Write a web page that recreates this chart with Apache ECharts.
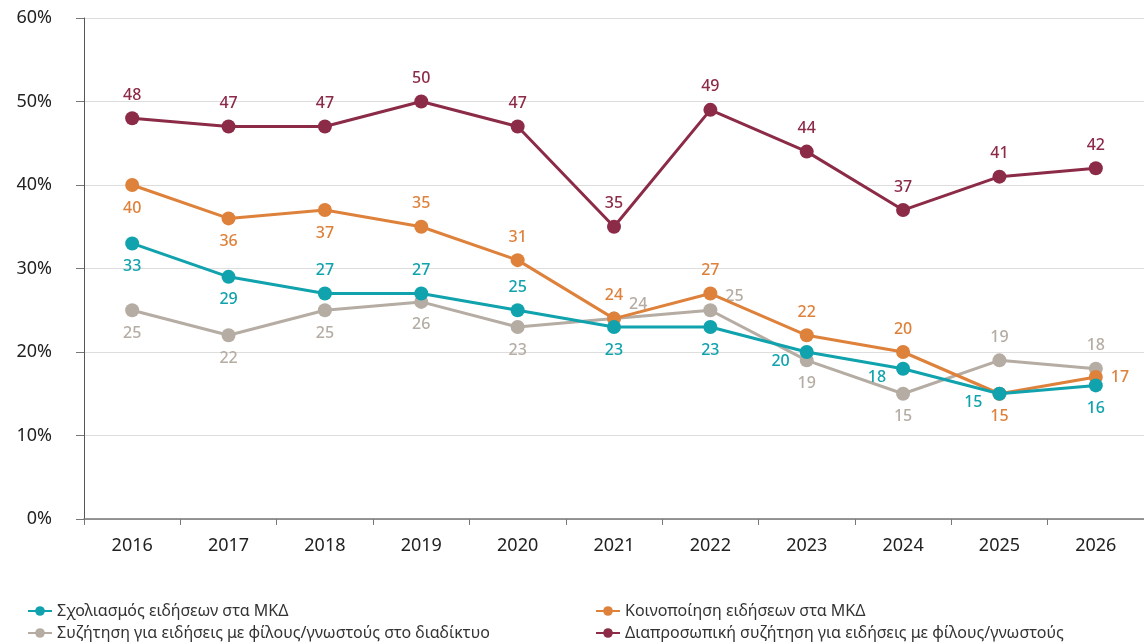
<!DOCTYPE html>
<html>
<head>
<meta charset="utf-8">
<script src="https://cdn.jsdelivr.net/npm/echarts@6/dist/echarts.min.js"></script>
<style>
  html, body { margin: 0; padding: 0; background: #fff; }
  #chart { width: 1144px; height: 644px; }
</style>
</head>
<body>
<div id="chart"></div>
<script>
const years = ["2016", "2017", "2018", "2019", "2020", "2021", "2022", "2023", "2024", "2025", "2026"];

const commenting = [33, 29, 27, 27, 25, 23, 23, 20, 18, 15, 16];
const sharing = [40, 36, 37, 35, 31, 24, 27, 22, 20, 15, 17];
const onlineTalk = [25, 22, 25, 26, 23, 24, 25, 19, 15, 19, 18];
const faceToFace = [48, 47, 47, 50, 47, 35, 49, 44, 37, 41, 42];

const names = [
  "Σχολιασμός ειδήσεων στα ΜΚΔ",
  "Κοινοποίηση ειδήσεων στα ΜΚΔ",
  "Συζήτηση για ειδήσεις με φίλους/γνωστούς στο διαδίκτυο",
  "Διαπροσωπική συζήτηση για ειδήσεις με φίλους/γνωστούς"
];

// where each value label sits
const commentingPos = ["bottom", "bottom", "top", "top", "top", "bottom", "bottom", "left", "left", "left", "bottom"];
const sharingPos = ["bottom", "bottom", "bottom", "top", "top", "top", "top", "top", "top", "bottom", "right"];
const onlineTalkPos = ["bottom", "bottom", "bottom", "bottom", "bottom", "right", "right", "bottom", "bottom", "top", "top"];
const faceToFacePos = Array(11).fill("top");

const FONT = "Noto Sans";
const chart = echarts.init(document.getElementById("chart"));

function makeSeries(name, values, positions, color, z) {
  return {
    name: name,
    type: "line",
    z: z,
    symbol: "circle",
    symbolSize: 14,
    lineStyle: { width: 3, color: color },
    itemStyle: { color: color },
    label: {
      show: true,
      color: color,
      fontFamily: FONT,
      fontSize: 16,
      fontWeight: 500,
      distance: 8
    },
    data: values.map((v, i) => {
      const item = { value: v, label: { position: positions[i] } };
      if (positions[i] === "right" && name === names[2]) {
        item.label.offset = [0, -14];
      }
      if (positions[i] === "left" && name === names[0]) {
        item.label.offset = [-2, 9];
      }
      return item;
    }),
    animation: false
  };
}

const legendBase = {
  orient: "vertical",
  height: 60,
  itemWidth: 24,
  itemHeight: 12,
  itemGap: 6,
  textStyle: { fontFamily: FONT, fontSize: 16, color: "#333" }
};

chart.setOption({
  animation: false,
  grid: { left: 84, right: 0, top: 18, bottom: 125 },
  legend: [
    Object.assign({}, legendBase, { left: 22, top: 598, data: [names[0], names[2]] }),
    Object.assign({}, legendBase, { left: 590, top: 598, data: [names[1], names[3]] })
  ],
  xAxis: {
    type: "category",
    data: years,
    boundaryGap: true,
    axisLine: { lineStyle: { color: "#777", width: 1.5 } },
    axisTick: { show: true, length: 6, lineStyle: { color: "#777" } },
    axisLabel: { fontFamily: FONT, fontSize: 18, color: "#222", margin: 18 }
  },
  yAxis: {
    type: "value",
    min: 0,
    max: 60,
    interval: 10,
    axisLine: { show: true, lineStyle: { color: "#555", width: 1 } },
    axisTick: { show: true, length: 8, lineStyle: { color: "#777" } },
    axisLabel: { fontFamily: FONT, fontSize: 18, color: "#222", margin: 32, formatter: "{value}%" },
    splitLine: { lineStyle: { color: "#dddddd", width: 1 } }
  },
  series: [
    makeSeries(names[2], onlineTalk, onlineTalkPos, "#b5aca3", 2),
    makeSeries(names[3], faceToFace, faceToFacePos, "#8c2b47", 3),
    makeSeries(names[1], sharing, sharingPos, "#de813b", 4),
    makeSeries(names[0], commenting, commentingPos, "#10a2ad", 5)
  ]
});
</script>
</body>
</html>
